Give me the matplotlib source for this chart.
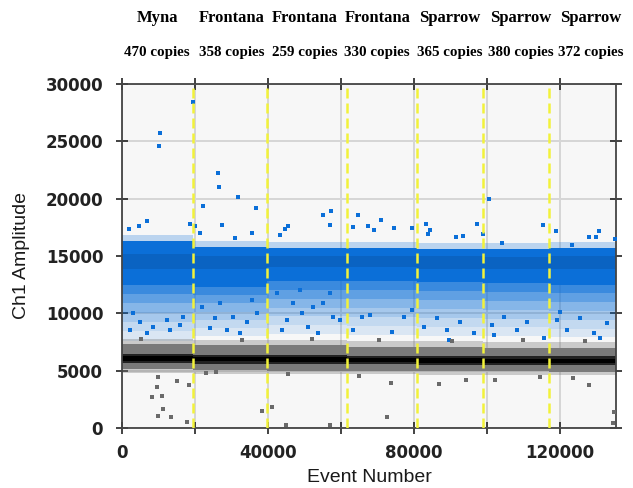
import matplotlib.pyplot as plt
from matplotlib.transforms import blended_transform_factory

# wells (event number boundaries) and labels
well_edges = [0, 19500, 39800, 61700, 81000, 99100, 117200, 135500]
samples = ['Myna', 'Frontana', 'Frontana', 'Frontana', 'Sparrow', 'Sparrow', 'Sparrow']
copies = [470, 358, 259, 330, 365, 380, 372]

# positive (blue) cloud per well, amplitude
blue_top = [16300, 15800, 15700, 15700, 15600, 15600, 15700]
blue_dark_hi = [15200, 15000, 15000, 15000, 15000, 14900, 15000]
blue_dark_lo = [13900, 13900, 14000, 14000, 13900, 13900, 13900]
blue_low = [12500, 12300, 12800, 12800, 12700, 12600, 12500]
blue_sparse = [7600, 8000, 8200, 8100, 8000, 8000, 7900]

# negative (black) band per well
black_hi = [6450, 6400, 6350, 6300, 6300, 6250, 6250]
black_lo = [5650, 5600, 5550, 5550, 5500, 5450, 5450]
gray_hi = [7300, 7200, 7200, 7100, 7100, 7000, 7000]
gray_lo = [5100, 5050, 5000, 5000, 4950, 4950, 4900]

# single droplets
blue_x = [10510, 10240, 19400, 26270, 26630, 31760, 22240, 36870, 27450, 6860,
          4750, 1830, 18560, 20120, 21300, 35750, 31020, 55070, 57340, 56980,
          64660, 45650, 44830, 63290, 67580, 43370, 100540, 71010, 67580, 69230,
          74550, 79490, 83330, 84600, 83890, 97240, 99090, 91740, 93570, 115460,
          119130, 130840, 127990, 130100, 135330, 104200, 123520,
          24160, 25530, 30560, 34220, 36970, 28730, 32390, 21870, 26900, 35600,
          43840, 47030, 49320, 52520, 55260, 58000, 59840, 51140, 45210, 53880,
          57100, 48860, 42470, 63490, 65800, 2200, 4940, 8590, 12270, 15920,
          3100, 13180, 16830, 6780, 68080, 74030, 77220, 82710, 86380, 89130,
          92780, 96430, 101480, 104670, 108340, 111090, 115650, 119320, 122070,
          125720, 129370, 133050, 89570, 101920, 131210, 79520, 120230]
blue_y = [25700, 24570, 28460, 22210, 21050, 20180, 19360, 19160, 17730, 18020,
          17620, 17330, 17790, 17620, 16980, 17010, 16600, 18550, 18960, 17730,
          18550, 17620, 17330, 17500, 17650, 16800, 19970, 18140, 17620, 17270,
          17440, 17440, 17820, 17290, 16940, 17820, 16920, 16630, 16720, 17730,
          17210, 17210, 16630, 16630, 16480, 16100, 15980,
          8690, 9560, 9710, 9270, 10000, 8550, 8260, 10580, 10870, 11160,
          8550, 10870, 10000, 10580, 10870, 9710, 9420, 8830, 9420, 8260,
          11750, 12030, 11750, 8550, 9710, 8550, 9270, 8830, 9420, 8980,
          10000, 8550, 9710, 8260, 9850, 8400, 9710, 8830, 9560, 8550,
          9270, 8260, 8980, 9710, 8550, 9270, 7820, 9420, 8550,
          9560, 8260, 9130, 7670, 8110, 7820, 10290, 10140]

gray_x = [9880, 15100, 9500, 18450, 8290, 10980, 11340, 9880, 13530, 17900,
          23150, 25780, 45650, 38430, 41260, 45020, 56980, 65050, 73840, 87020,
          94430, 72740, 102390, 128000, 123600, 135050, 134570, 114740,
          5200, 33000, 52000, 70500, 90500, 110000, 127000]
gray_y = [4420, 4100, 3610, 3780, 2710, 2790, 1660, 1080, 940, 520,
          4820, 4910, 4680, 1450, 1860, 240, 240, 4530, 3900, 3810,
          4210, 960, 4160, 3780, 4390, 1420, 410, 4420,
          7800, 7700, 7750, 7650, 7600, 7700, 7550]

dividers = [19500, 39800, 61700, 81000, 99100, 117200]
label_x = [9610, 30200, 50230, 70000, 89760, 109250, 128460]

blue = '#0b6fd8'
fringe_alpha = [0.12, 0.22, 0.34, 0.48, 0.64, 0.8]

fig = plt.figure(figsize=(6.33, 4.88), dpi=100)
ax = fig.add_axes([0.1927, 0.123, 0.7805, 0.705])
ax.set_facecolor('#f7f7f7')

for i in range(len(copies)):
    xs = [well_edges[i], well_edges[i + 1]]

    def band(lo, hi, **kw):
        ax.fill_between(xs, [lo, lo], [hi, hi], linewidth=0, zorder=2, **kw)

    # blue cloud fades out below the core
    step = (blue_low[i] - blue_sparse[i]) / len(fringe_alpha)
    for k, a in enumerate(fringe_alpha):
        band(blue_sparse[i] + k * step, blue_sparse[i] + (k + 1) * step, color=blue, alpha=a)
    band(blue_top[i], blue_top[i] + 500, color=blue, alpha=0.25)
    band(blue_low[i], blue_top[i], color=blue)
    band(blue_dark_lo[i], blue_dark_hi[i], color='#0a58ad', alpha=0.5)
    # negative band
    band(gray_hi[i], gray_hi[i] + 500, color='#777777', alpha=0.35)
    band(gray_lo[i] - 300, gray_lo[i], color='#777777', alpha=0.35)
    band(gray_lo[i], gray_hi[i], color='#7a7a7a')
    band(black_lo[i], black_hi[i], color='#222222')
    band(black_lo[i] + 200, black_hi[i] - 200, color='#000000')

ax.scatter(blue_x, blue_y, s=7, marker='s', color=blue, linewidths=0, zorder=3)
ax.scatter(gray_x, gray_y, s=7, marker='s', color='#6a6a6a', linewidths=0, zorder=3)

ax.grid(True, color='#d6d6d6', linewidth=1.4, zorder=1)
ax.set_axisbelow(True)
for d in dividers:
    ax.axvline(d, color='#f2f23a', linewidth=1.8, dashes=(4, 2), zorder=4)

ax.set_xlim(0, 135500)
ax.set_ylim(0, 30000)
ax.set_xticks(range(0, 135000, 20000))
ax.set_xticklabels(['0', '', '40000', '', '80000', '', '120000'])
ax.set_yticks(range(0, 30001, 5000))
ax.tick_params(direction='inout', length=9, width=1.2, labelsize=12,
               top=True, right=True, colors='#222222')
ax.tick_params(axis='y', pad=9)
ax.tick_params(axis='x', pad=7)
for lab in ax.get_xticklabels() + ax.get_yticklabels():
    lab.set_fontweight('bold')
    lab.set_family('DejaVu Sans')
for s in ax.spines.values():
    s.set_color('#444444')
    s.set_linewidth(1.3)

ax.set_xlabel('Event Number', fontsize=14, family='Liberation Sans', color='#1a1a1a',
              labelpad=5)
ax.set_ylabel('Ch1 Amplitude', fontsize=14, family='Liberation Sans', color='#1a1a1a',
              labelpad=11)

trans = blended_transform_factory(ax.transData, fig.transFigure)
for i in range(len(copies)):
    ax.text(label_x[i], 0.963, samples[i], transform=trans, ha='center', va='center',
            family='Liberation Serif', fontweight='bold', fontsize=12, clip_on=False)
    ax.text(label_x[i], 0.893, '%d copies' % copies[i], transform=trans, ha='center',
            va='center', family='Liberation Serif', fontweight='bold', fontsize=10.8,
            clip_on=False)

fig.savefig('out.png', dpi=100)
